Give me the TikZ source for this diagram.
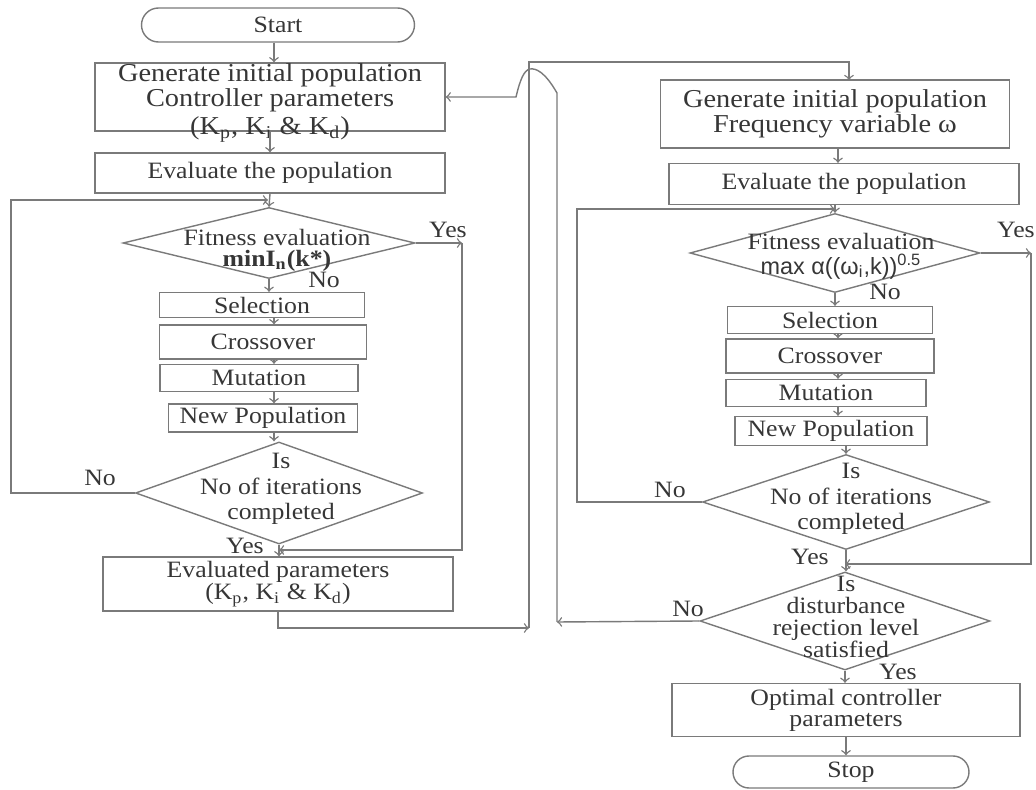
\documentclass[tikz,border=0pt]{standalone}
\usepackage{fontspec}
\setmainfont{Liberation Serif}[FakeStretch=1.1]
\newfontfamily\greeksans{Liberation Sans}
\usetikzlibrary{shapes.geometric,shapes.misc}

\definecolor{lc}{HTML}{7A7A7A}
\definecolor{tc}{HTML}{363636}

\tikzset{
  sz/.style 2 args={minimum width=#1*0.015cm, minimum height=#2*0.015cm},
  box/.style={draw=lc, line width=0.6pt, rectangle, inner sep=0pt, align=center},
  term/.style={draw=lc, line width=0.6pt, rounded rectangle, inner sep=0pt},
  dec/.style={draw=lc, line width=0.6pt, diamond, inner sep=0pt},
  txt/.style={align=center, inner sep=0pt},
  yn/.style={inner sep=0pt},
  wire/.style={draw=lc, line width=0.6pt},
  flow/.style={wire, ->},
}

\begin{document}
\begin{tikzpicture}[x=0.015cm, y=-0.015cm, font=\fontsize{10}{11}\selectfont, text=tc]
  \useasboundingbox (0,0) rectangle (1036,790);

  % left column: controller parameters
  \node[term, sz={273}{34}] (start) at (278,25) {Start};
  \node[box, sz={350}{68}] (gen1) at (270,97) {};
  \node[txt, font=\fontsize{11}{11}\selectfont] (gen1t) at (270,103)
    {Generate initial population\\[-0.5pt] Controller parameters\\[1pt]
     (K\textsubscript{p}, K\textsubscript{i} \& K\textsubscript{d})};
  \node[box, sz={350}{40}] (eval1) at (270,173) {Evaluate the population};
  \node[dec, sz={292}{71}] (fit1) at (269,243) {};
  \node[txt] (fit1t) at (277,250) {Fitness evaluation\\[-2pt] \textbf{minI\textsubscript{n}(k*)}};
  \node[box, sz={205}{25}] (sel1) at (262,305) {Selection};
  \node[box, sz={207}{34}] (cro1) at (263,342) {Crossover};
  \node[box, sz={198}{27}] (mut1) at (259,378) {Mutation};
  \node[box, sz={189}{28}] (new1) at (263,418) {New Population};
  \node[dec, sz={287}{102}] (it1) at (279,493) {};
  \node[txt] (it1t) at (281,489) {Is\\ No of iterations\\ completed};
  \node[box, sz={350}{54}] (evp1) at (278,584)
    {Evaluated parameters\\[-1.5pt] (K\textsubscript{p}, K\textsubscript{i} \& K\textsubscript{d})};

  % right column: frequency variable
  \node[box, sz={349}{68}, font=\fontsize{11}{11}\selectfont] (gen2) at (835,114)
    {Generate initial population\\[-0.5pt] Frequency variable ω};
  \node[box, sz={350}{41}] (eval2) at (844,184) {Evaluate the population};
  \node[dec, sz={290}{79}] (fit2) at (835,253) {};
  \node[txt] (fit2t) at (841,256)
    {Fitness evaluation\\[-0.5pt] {\greeksans\fontsize{10}{11}\selectfont max α((ω\textsubscript{i},k))\textsuperscript{0.5}}};
  \node[box, sz={205}{27}] (sel2) at (830,320) {Selection};
  \node[box, sz={208}{34}] (cro2) at (830,356) {Crossover};
  \node[box, sz={200}{27}] (mut2) at (826,393) {Mutation};
  \node[box, sz={192}{29}] (new2) at (831,431) {New Population};
  \node[dec, sz={287}{95}] (it2) at (846,502) {};
  \node[txt] (it2t) at (851,499) {Is\\ No of iterations\\ completed};
  \node[dec, sz={290}{98}] (dist2) at (845,621) {};
  \node[txt, font=\fontsize{10}{9.4}\selectfont] (dist2t) at (846,617)
    {Is\\ disturbance\\ rejection level\\ satisfied};
  \node[box, sz={348}{53}] (opt2) at (846,710) {Optimal controller\\[-2pt] parameters};
  \node[term, sz={236}{32}] (stop2) at (851,772) {Stop};

  % yes / no labels
  \node[yn] (no1) at (324,280) {No};
  \node[yn] (yes1) at (448,230) {Yes};
  \node[yn] (no2) at (100,478) {No};
  \node[yn] (yes2) at (245,546) {Yes};
  \node[yn] (no3) at (885,292) {No};
  \node[yn] (yes3) at (1016,230) {Yes};
  \node[yn] (no4) at (670,490) {No};
  \node[yn] (yes4) at (810,557) {Yes};
  \node[yn] (no5) at (688,609) {No};
  \node[yn] (yes5) at (898,672) {Yes};

  % helper points
  \coordinate (ax1) at (274,0);
  \coordinate (ax2) at (838,0);
  \coordinate (lp1) at (268,200);
  \coordinate (lp2) at (835,209);
  \coordinate (y1r) at (462,243);
  \coordinate (y1b) at (279,550);
  \coordinate (y2r) at (1031,253);
  \coordinate (y2b) at (845,564);
  \coordinate (j1) at (529,628);
  \coordinate (j2) at (529,62);
  \coordinate (g2in) at (849,80);
  \coordinate (n3) at (557,622);
  \coordinate (h1) at (557,93);
  \coordinate (h2) at (516,97);

  % left column flow
  \draw[flow] (start.south -| ax1) -- (gen1.north -| ax1);
  \draw[flow] (gen1.south) -- (eval1.north);
  \draw[flow] (eval1.south) -- (fit1.north);
  \draw[flow] (fit1.south) -- (fit1.south |- sel1.north);
  \draw[flow] (sel1.south -| ax1) -- (cro1.north -| ax1);
  \draw[flow] (cro1.south -| ax1) -- (mut1.north -| ax1);
  \draw[flow] (mut1.south -| ax1) -- (new1.north -| ax1);
  \draw[flow] (new1.south -| ax1) -- (ax1 |- it1.north);
  \draw[flow] (it1.south) -- (it1.south |- evp1.north);
  \draw[flow] (fit1.east) -- (y1r);
  \draw[flow] (y1r) |- (y1b);
  \draw[flow] (it1.west) -- ++(-124,0) |- (lp1);

  % crossing to the right column
  \draw[flow] (evp1.south) |- (j1);
  \draw[flow] (j1) -- (j2) -| (g2in);

  % right column flow
  \draw[flow] (gen2.south -| ax2) -- (eval2.north -| ax2);
  \draw[flow] (eval2.south -| fit2.north) -- (fit2.north);
  \draw[flow] (fit2.south) -- (fit2.south |- sel2.north);
  \draw[flow] (sel2.south -| ax2) -- (cro2.north -| ax2);
  \draw[flow] (cro2.south -| ax2) -- (mut2.north -| ax2);
  \draw[flow] (mut2.south -| ax2) -- (new2.north -| ax2);
  \draw[flow] (new2.south -| it2.north) -- (it2.north);
  \draw[flow] (fit2.east) -- (y2r);
  \draw[flow] (y2r) |- (y2b);
  \draw[flow] (it2.west) -- ++(-125,0) |- (lp2);
  \draw[flow] (it2.south) -- (it2.south |- dist2.north);
  \draw[flow] (dist2.south) -- (dist2.south |- opt2.north);
  \draw[flow] (opt2.south) -- (opt2.south |- stop2.north);

  % back to the left column, jumping the crossing line
  \draw[flow] (dist2.west) -- (n3);
  \draw[flow] (n3) -- (h1) .. controls (545,72) and (536,68) .. (530,69)
    .. controls (524,70) and (520,80) .. (h2) -- (gen1.east);
\end{tikzpicture}
\end{document}
